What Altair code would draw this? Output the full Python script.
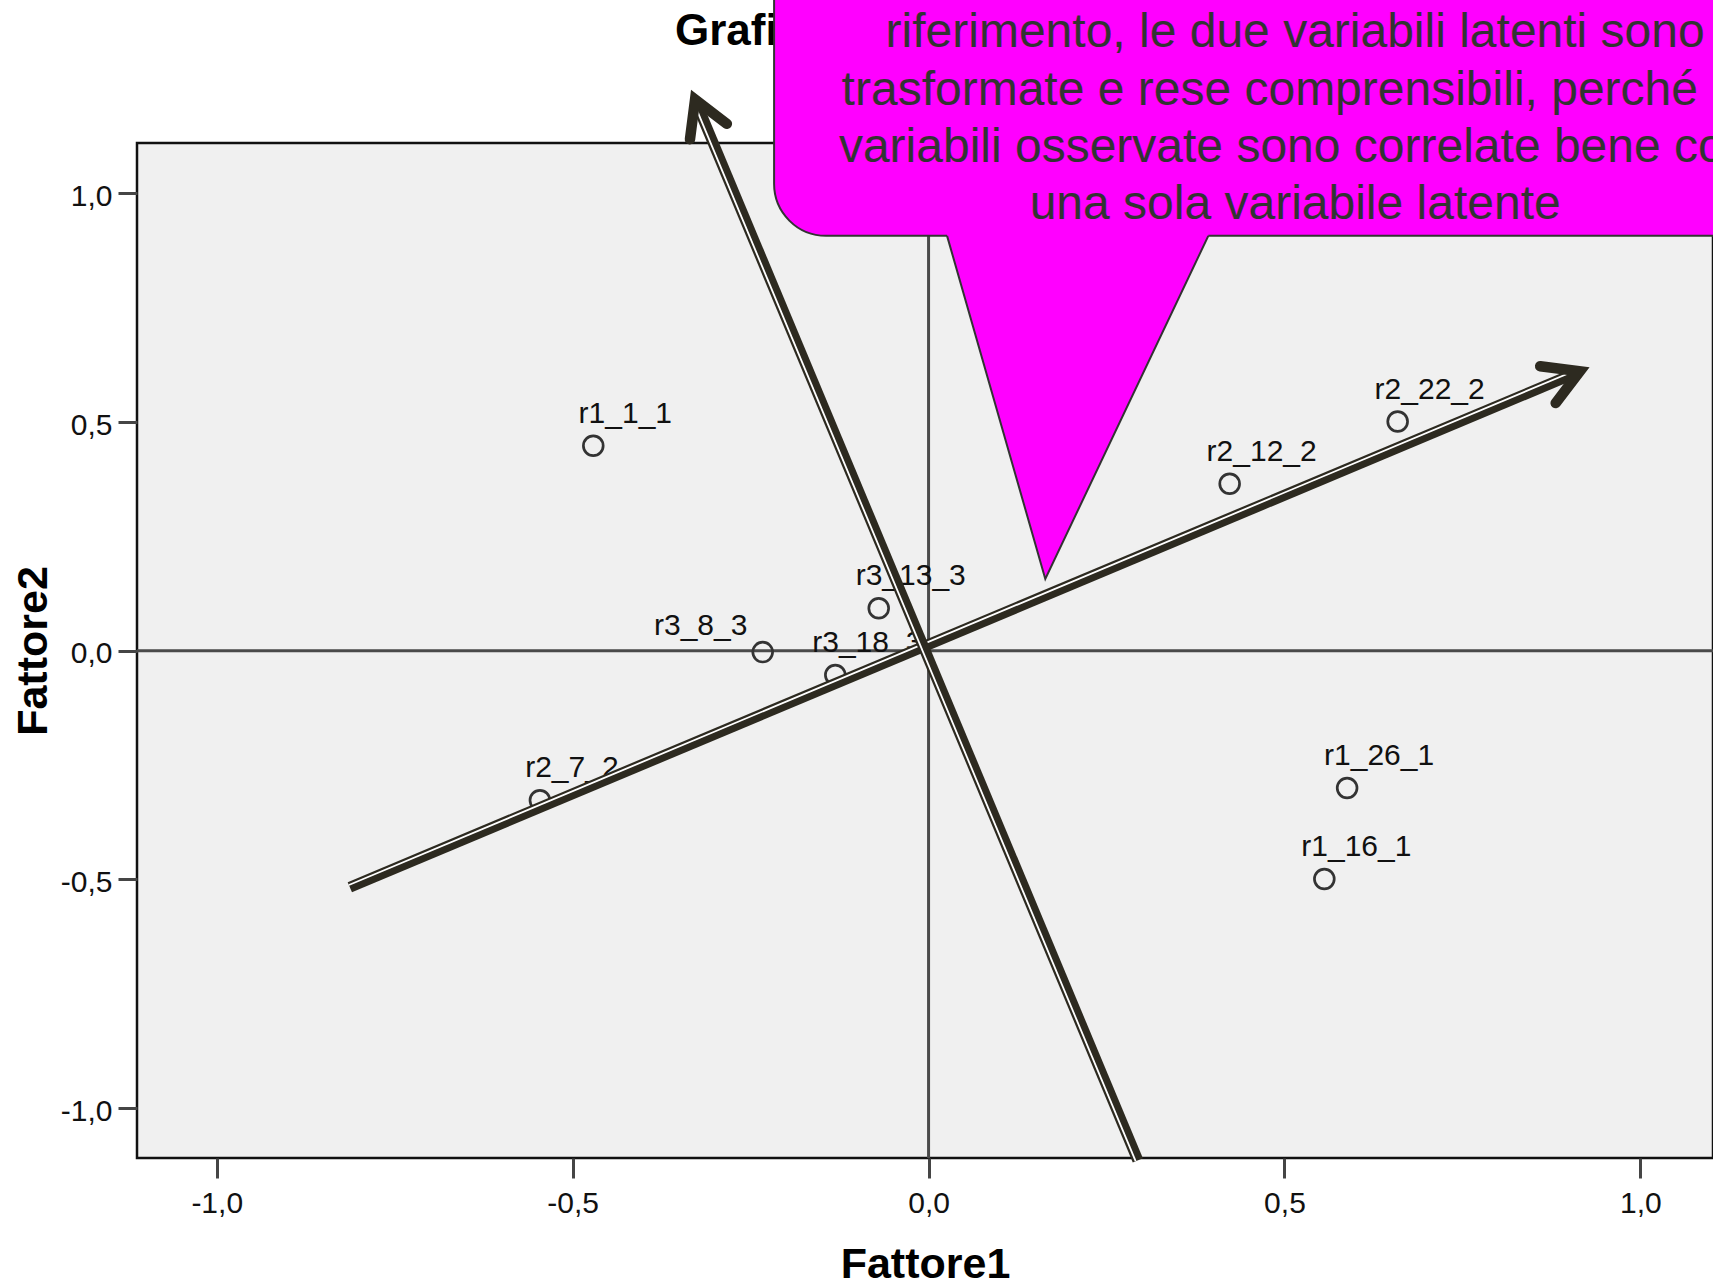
import json
import math

import altair as alt
import pandas as pd

FONT = "Liberation Sans"
INK = "#2d2a20"
CALLOUT_FILL = "#FF00FF"
CALLOUT_INK = "#333333"

# Loadings of the observed variables on the two rotated factors
variables = ["r1_1_1", "r2_22_2", "r2_12_2", "r3_13_3", "r3_8_3",
             "r3_18_3", "r2_7_2", "r1_26_1", "r1_16_1"]
fattore1 = [-0.471, 0.659, 0.423, -0.070, -0.233, -0.131, -0.546, 0.588, 0.556]
fattore2 = [0.448, 0.501, 0.365, 0.093, -0.003, -0.053, -0.327, -0.300, -0.499]

# variables whose label sits to the upper-left of the marker
left_labels = ["r3_8_3"]

tick_values = [-1.0, -0.5, 0.0, 0.5, 1.0]

# rotated reference axes, drawn as arrows (tail -> head, factor units)
arrow_names = ["Fattore1 ruotato", "Fattore2 ruotato"]
arrow_tail_x = [-0.813, 0.294]
arrow_tail_y = [-0.517, -1.114]
arrow_head_x = [0.915, -0.328]
arrow_head_y = [0.611, 1.205]

title_text = "Grafico fattoriale nello spazio fattoriale ruotato"

callout_lines = [
    "Eseguendo la rotazione degli assi di",
    "riferimento, le due variabili latenti sono",
    "trasformate e rese comprensibili, perché le",
    "variabili osservate sono correlate bene con",
    "una sola variabile latente",
]

# callout balloon outline, in factor units
callout_x = [-0.217, 1.45]
callout_y = [0.907, 1.60]
pointer_x = [0.026, 0.164, 0.393]
pointer_y = [0.907, 0.157, 0.907]
callout_text_pos = [0.515, 1.4446]

# plot area
W, H = 1576, 1015
X_DOMAIN = [-1.112, 1.102]
Y_DOMAIN = [-1.109, 1.110]
PX_X = W / (X_DOMAIN[1] - X_DOMAIN[0])
PX_Y = H / (Y_DOMAIN[1] - Y_DOMAIN[0])

xs = alt.Scale(domain=X_DOMAIN, nice=False, zero=False)
ys = alt.Scale(domain=Y_DOMAIN, nice=False, zero=False)

label_expr = ("(datum.value < 0 ? '-' : '') + "
              "replace(format(abs(datum.value), '.1f'), '.', ',')")

common_axis = dict(
    values=tick_values, labelExpr=label_expr, grid=False, domain=False,
    tickWidth=3, tickColor="#454545", labelFont=FONT, labelFontSize=30,
    labelColor="#111111", labelFlush=False, labelOverlap=False,
    titleFont=FONT, titleFontSize=43, titleFontWeight="bold",
    titleColor="#000000", titleBaseline="alphabetic",
)
x_axis = alt.Axis(title="Fattore1", tickSize=20, labelPadding=10,
                  titleY=119, **common_axis)
y_axis = alt.Axis(title="Fattore2", tickSize=19, labelPadding=6,
                  labelOffset=3, titleAngle=270, titleAlign="center",
                  titleX=-91, titleY=H / 2, **common_axis)


def X(field):
    return alt.X(field, scale=xs, axis=x_axis)


def Y(field):
    return alt.Y(field, scale=ys, axis=y_axis)


layers = []

# zero reference lines
zero = pd.DataFrame({"v": [0.0]})
layers.append(alt.Chart(zero).mark_rule(color="#4a4a4a", strokeWidth=3)
              .encode(x=X("v:Q")))
layers.append(alt.Chart(zero).mark_rule(color="#4a4a4a", strokeWidth=3)
              .encode(y=Y("v:Q")))

# variables
pts = pd.DataFrame({"variabile": variables, "f1": fattore1, "f2": fattore2})
layers.append(
    alt.Chart(pts)
    .mark_point(shape="circle", size=392, filled=False, stroke="#333333",
                strokeWidth=2.7, opacity=1)
    .encode(x=X("f1:Q"), y=Y("f2:Q"))
)

left_list = json.dumps(left_labels)
label_style = dict(baseline="alphabetic", align="center", font=FONT,
                   fontSize=30, color="#111111")
layers.append(
    alt.Chart(pts)
    .transform_filter(f"indexof({left_list}, datum.variabile) < 0")
    .mark_text(dx=32, dy=-23, **label_style)
    .encode(x=X("f1:Q"), y=Y("f2:Q"), text="variabile:N")
)
layers.append(
    alt.Chart(pts)
    .transform_filter(f"indexof({left_list}, datum.variabile) >= 0")
    .mark_text(dx=-62, dy=-17, **label_style)
    .encode(x=X("f1:Q"), y=Y("f2:Q"), text="variabile:N")
)

# rotated axes: thick line with a thin companion line and an open head
CHEVRON = "M -1 -0.577 L 0 0 L -1 0.577"
for name, tx, ty, hx, hy in zip(arrow_names, arrow_tail_x, arrow_tail_y,
                                arrow_head_x, arrow_head_y):
    dxp = (hx - tx) * PX_X
    dyp = -(hy - ty) * PX_Y
    length = math.hypot(dxp, dyp)
    ux, uy = dxp / length, dyp / length
    angle = math.degrees(math.atan2(uy, ux)) % 360
    seg = pd.DataFrame({"asse": [name, name], "x": [tx, hx], "y": [ty, hy],
                        "k": [0, 1]})
    layers.append(
        alt.Chart(seg).mark_line(color=INK, strokeWidth=11, strokeCap="butt")
        .encode(x=X("x:Q"), y=Y("y:Q"), order="k:Q")
    )
    layers.append(
        alt.Chart(seg).mark_line(color="#ffffff", strokeWidth=1.8,
                                 strokeCap="butt",
                                 xOffset=round(uy * 2.4, 2),
                                 yOffset=round(-ux * 2.4, 2))
        .encode(x=X("x:Q"), y=Y("y:Q"), order="k:Q")
    )
    head = pd.DataFrame({"x": [hx], "y": [hy], "angle": [angle]})
    layers.append(
        alt.Chart(head)
        .mark_point(shape=CHEVRON, size=4800, filled=False, stroke=INK,
                    strokeWidth=10.5, strokeCap="round", strokeJoin="miter",
                    opacity=1)
        .encode(x=X("x:Q"), y=Y("y:Q"),
                angle=alt.Angle("angle:Q", scale=None))
    )

# chart title
layers.append(
    alt.Chart(pd.DataFrame({"t": [title_text]}))
    .mark_text(align="left", baseline="alphabetic", font=FONT, fontSize=44,
               fontWeight="bold", color="#000000")
    .encode(x=alt.value(538), y=alt.value(-98), text="t:N")
)

# callout balloon
box = pd.DataFrame({"x1": [callout_x[0]], "x2": [callout_x[1]],
                    "y1": [callout_y[0]], "y2": [callout_y[1]]})
layers.append(
    alt.Chart(box)
    .mark_rect(cornerRadius=52, fill=CALLOUT_FILL, stroke=CALLOUT_INK,
               strokeWidth=2)
    .encode(x=X("x1:Q"), x2="x2:Q", y=Y("y1:Q"), y2="y2:Q")
)
ptr = pd.DataFrame({"x": pointer_x, "y": pointer_y,
                    "top": [callout_y[0] + 0.03] * len(pointer_x)})
layers.append(
    alt.Chart(ptr).mark_area(fill=CALLOUT_FILL, opacity=1)
    .encode(x=X("x:Q"), y=Y("top:Q"), y2="y:Q")
)
layers.append(
    alt.Chart(ptr).mark_line(color=CALLOUT_INK, strokeWidth=2)
    .encode(x=X("x:Q"), y=Y("y:Q"))
)
txt = pd.DataFrame({"x": [callout_text_pos[0]], "y": [callout_text_pos[1]],
                    "t": ["\n".join(callout_lines)]})
layers.append(
    alt.Chart(txt)
    .mark_text(lineBreak="\n", lineHeight=57.3, align="center",
               baseline="alphabetic", font=FONT, fontSize=48,
               color=CALLOUT_INK)
    .encode(x=X("x:Q"), y=Y("y:Q"), text="t:N")
)

chart = (
    alt.layer(*layers)
    .properties(width=W, height=H, background="white",
                padding={"left": 137, "top": 143, "right": 0, "bottom": 120},
                autosize=alt.AutoSizeParams(type="none"))
    .configure_view(fill="#F0F0F0", stroke="#111111", strokeWidth=2.5)
)

chart.save("out.html", embed_options={"renderer": "svg", "actions": False})
